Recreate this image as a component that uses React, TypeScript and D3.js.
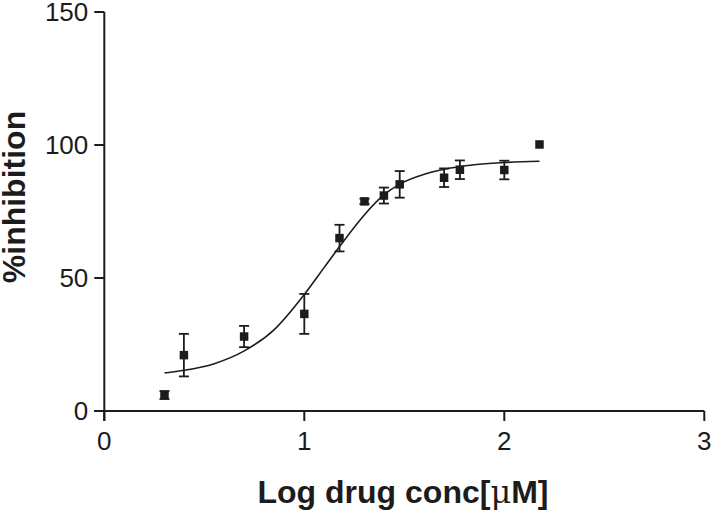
import React from "react";
import * as d3 from "d3";

// Observed data: log concentration, mean % inhibition, error (SEM)
const logConc = [0.301, 0.398, 0.699, 1.0, 1.176, 1.301, 1.398, 1.477, 1.699, 1.778, 2.0, 2.176];
const inhibition = [6.0, 21.0, 28.0, 36.5, 65.0, 78.8, 81.0, 85.2, 87.7, 90.7, 90.6, 100.2];
const errors = [1.5, 8.0, 4.0, 7.5, 5.0, 1.0, 3.0, 5.0, 3.5, 3.5, 3.5, 0];

// Fitted curve
const curveX = [0.301, 0.4, 0.55, 0.7, 0.85, 1.0, 1.1, 1.18, 1.3, 1.4, 1.48, 1.6, 1.7, 1.85, 2.0, 2.176];
const curveY = [14.3, 15.3, 17.8, 22.6, 30.6, 43.8, 54.0, 62.2, 73.7, 81.4, 85.4, 89.0, 90.9, 92.6, 93.4, 93.9];

const xTicks = [0, 1, 2, 3];
const yTicks = [0, 50, 100, 150];

const W = 711;
const H = 513;
const INK = "#1c1c1c";

export default function App() {
  const x = d3.scaleLinear().domain([0, 3]).range([104.3, 704.3]);
  const y = d3.scaleLinear().domain([0, 150]).range([411, 12]);
  const tick = 10;

  const line = d3
    .line<number>()
    .x((_, i) => x(curveX[i]))
    .y((d) => y(d))
    .curve(d3.curveMonotoneX);

  const sq = 8.5;
  const cap = 5;

  return (
    <svg
      width={W}
      height={H}
      style={{ position: "absolute", left: 0, top: 0, background: "#fff" }}
      fontFamily="'Liberation Sans', Arial, sans-serif"
    >
      <rect x={0} y={0} width={W} height={H} fill="#fff" />
      {/* y axis */}
      <line x1={x(0)} x2={x(0)} y1={y(150)} y2={y(0) + tick} stroke={INK} strokeWidth={2} />
      {yTicks.map((t) => (
        <g key={"y" + t}>
          <line x1={x(0) - tick} x2={x(0)} y1={y(t)} y2={y(t)} stroke={INK} strokeWidth={2} />
          <text x={x(0) - 16} y={y(t)} dy="0.35em" textAnchor="end" fontSize={26} fill={INK}>
            {t}
          </text>
        </g>
      ))}
      {/* x axis */}
      <line x1={x(0) - tick} x2={x(3)} y1={y(0)} y2={y(0)} stroke={INK} strokeWidth={2} />
      {xTicks.map((t) => (
        <g key={"x" + t}>
          <line x1={x(t)} x2={x(t)} y1={y(0)} y2={y(0) + tick} stroke={INK} strokeWidth={2} />
          <text x={x(t)} y={450} textAnchor="middle" fontSize={26} fill={INK}>
            {t}
          </text>
        </g>
      ))}
      {/* curve */}
      <path d={line(curveY) || ""} fill="none" stroke={INK} strokeWidth={1.6} />
      {/* error bars */}
      {logConc.map((lc, i) =>
        errors[i] > 0 ? (
          <g key={"e" + i} stroke={INK} strokeWidth={1.8}>
            <line x1={x(lc)} x2={x(lc)} y1={y(inhibition[i] - errors[i])} y2={y(inhibition[i] + errors[i])} />
            <line x1={x(lc) - cap} x2={x(lc) + cap} y1={y(inhibition[i] + errors[i])} y2={y(inhibition[i] + errors[i])} />
            <line x1={x(lc) - cap} x2={x(lc) + cap} y1={y(inhibition[i] - errors[i])} y2={y(inhibition[i] - errors[i])} />
          </g>
        ) : null
      )}
      {/* markers */}
      {logConc.map((lc, i) => (
        <rect
          key={"m" + i}
          x={x(lc) - sq / 2}
          y={y(inhibition[i]) - sq / 2}
          width={sq}
          height={sq}
          fill={INK}
        />
      ))}
      {/* axis titles */}
      <text x={403} y={503} textAnchor="middle" fontSize={32} fontWeight="bold" fill={INK}>
        Log drug conc[<tspan fontWeight="normal" fontFamily="'DejaVu Serif', serif">μ</tspan>M]
      </text>
      <text
        transform={`translate(25,197) rotate(-90)`}
        textAnchor="middle"
        fontSize={32}
        fontWeight="bold"
        fill={INK}
      >
        %inhibition
      </text>
    </svg>
  );
}
